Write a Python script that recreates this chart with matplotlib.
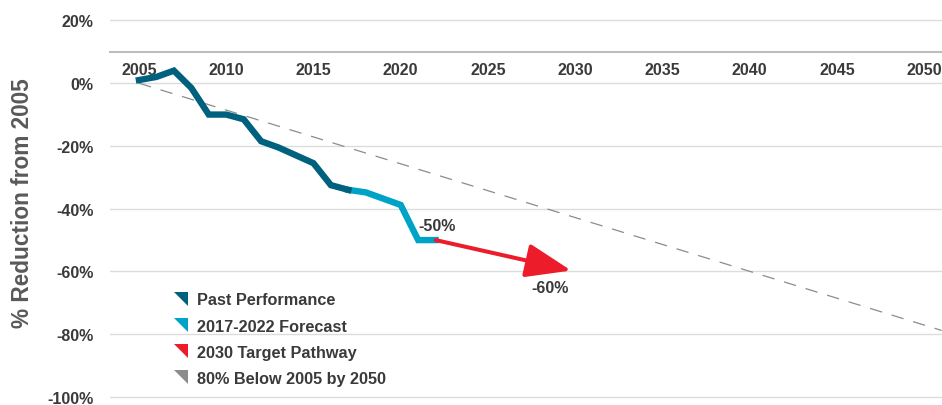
import matplotlib
matplotlib.use("Agg")
import matplotlib.pyplot as plt
from matplotlib.lines import Line2D
from matplotlib.path import Path
from matplotlib.patches import ArrowStyle

plt.rcParams['font.family'] = ['Liberation Sans', 'DejaVu Sans']

# ---- data ----
past_years = [2005, 2006, 2007, 2008, 2009, 2010, 2011, 2012, 2013, 2014, 2015, 2016, 2017]
past_vals = [1.0, 2.0, 4.0, -1.5, -10.0, -10.0, -11.5, -18.5, -20.5, -23.0, -25.5, -32.5, -34.0]

fc_years = [2017, 2018, 2019, 2020, 2021, 2022]
fc_vals = [-34.0, -34.8, -36.8, -38.8, -50.0, -50.0]

target_years = [2022, 2030]
target_vals = [-50.0, -60.0]

goal_years = [2005, 2051]
goal_vals = [0.0, -78.8]

xticks = [2005, 2010, 2015, 2020, 2025, 2030, 2035, 2040, 2045, 2050]
yticks = [20, 0, -20, -40, -60, -80, -100]
ytick_labels = ['20%', '0%', '-20%', '-40%', '-60%', '-80%', '-100%']

legend_labels = ['Past Performance', '2017-2022 Forecast', '2030 Target Pathway', '80% Below 2005 by 2050']

c_past = '#00617F'
c_fc = '#00A3C8'
c_red = '#EC1C2A'
c_gray = '#8C8C8C'
txt = '#3A3A3A'

W, H = 942, 406
fig = plt.figure(figsize=(W / 100, H / 100), dpi=100)

# axes placement in pixels
left_px, right_px = 110, 942
top_px, bot_px = 18.3, 401.1
ax = fig.add_axes([left_px / W, 1 - bot_px / H, (right_px - left_px) / W, (bot_px - top_px) / H])
ax.set_xlim(2003.34, 2051.02)
ax.set_ylim(-101, 21)

ax.set_yticks(yticks)
ax.set_yticklabels(ytick_labels)
ax.set_xticks(xticks)
ax.set_xticklabels([str(x) for x in xticks])
ax.grid(axis='y', color='#DCDCDC', lw=1.0)
ax.grid(axis='x', visible=False)
ax.set_axisbelow(True)

for s in ['top', 'right', 'left']:
    ax.spines[s].set_visible(False)
ax.spines['bottom'].set_position(('data', 10))
ax.spines['bottom'].set_color('#BDBDBD')
ax.spines['bottom'].set_linewidth(1.5)

ax.tick_params(axis='both', length=0, labelsize=11.5, labelcolor=txt)
ax.tick_params(axis='y', pad=12)
ax.tick_params(axis='x', pad=7)
for lab in ax.get_xticklabels() + ax.get_yticklabels():
    lab.set_fontweight('bold')

fig.text(22.5 / W, 1 - 203.5 / H, '% Reduction from 2005', rotation=90, ha='center', va='center',
         fontsize=16.3, fontweight='bold', color='#595959')

# lines
ax.plot(goal_years, goal_vals, color=c_gray, lw=0.9, dashes=(10, 8), zorder=2)
ax.plot(past_years, past_vals, color=c_past, lw=4.6, solid_joinstyle='miter', zorder=4)
ax.plot(fc_years, fc_vals, color=c_fc, lw=4.6, solid_joinstyle='miter', zorder=3)
ax.annotate('', xy=(target_years[1], target_vals[1]), xytext=(target_years[0], target_vals[0]),
            arrowprops=dict(arrowstyle=ArrowStyle('-|>', head_length=2.0, head_width=0.75),
                            mutation_scale=14, color=c_red, lw=2.9, shrinkA=0, shrinkB=3),
            zorder=5)

ax.text(2022.1, -45.5, '-50%', ha='center', va='center', fontsize=11.5, fontweight='bold', color=txt)
ax.text(2028.55, -65.1, '-60%', ha='center', va='center', fontsize=11.5, fontweight='bold', color=txt)

# legend
tri = Path([(-1, 1), (1, 1), (1, -1), (-1, 1)], [Path.MOVETO, Path.LINETO, Path.LINETO, Path.CLOSEPOLY])
handles = [Line2D([], [], linestyle='none', marker=tri, markersize=9.5, color=c, markeredgewidth=0)
           for c in [c_past, c_fc, c_red, c_gray]]
leg = ax.legend(handles, legend_labels, loc='upper left',
                bbox_to_anchor=((173 - left_px) / (right_px - left_px), 1 - (293.5 - top_px) / (bot_px - top_px)),
                frameon=False, fontsize=11.7, labelspacing=0.68, handlelength=1.0, handletextpad=0.47,
                borderpad=0, borderaxespad=0)
for t in leg.get_texts():
    t.set_fontweight('bold')
    t.set_color(txt)

fig.savefig('out.png', dpi=100)
